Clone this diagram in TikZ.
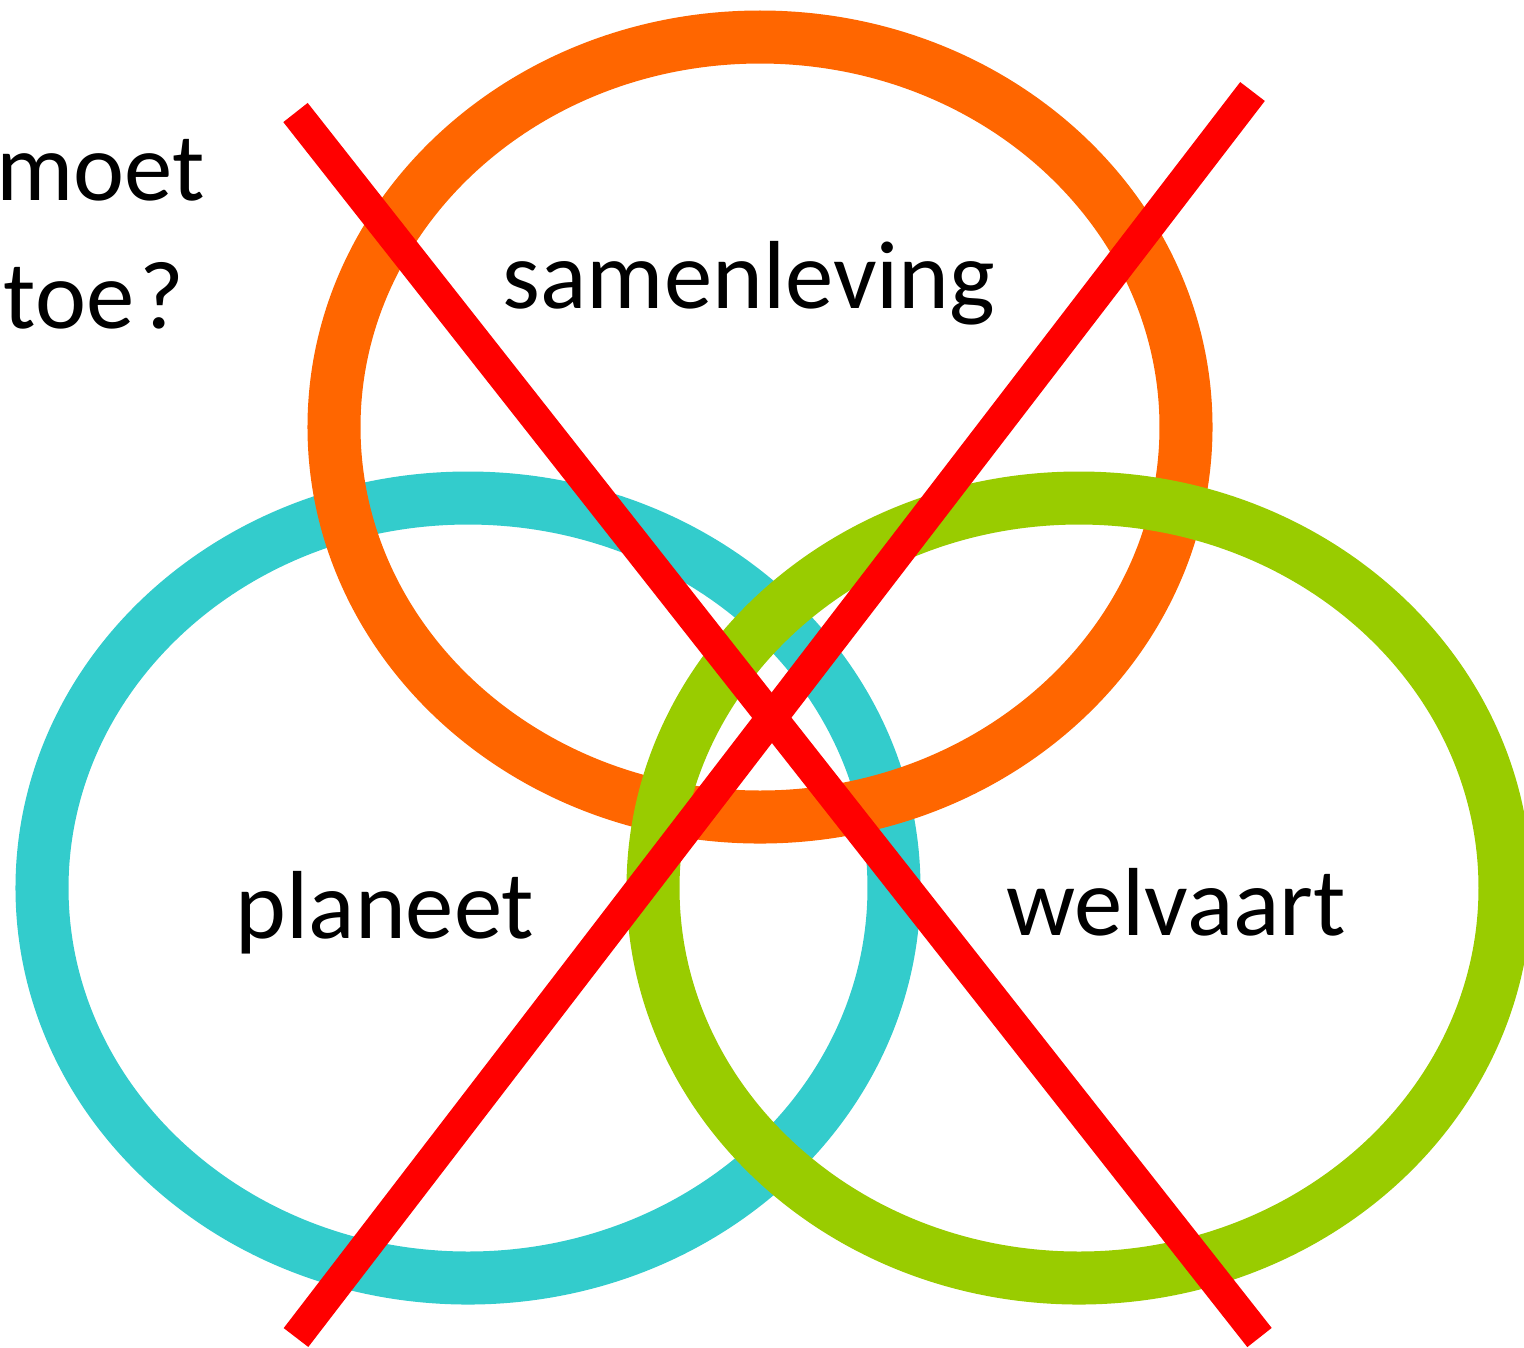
\documentclass[tikz,border=0pt]{standalone}
\usepackage{fontspec}
\setmainfont{Carlito}
\usepackage{xcolor}
\usetikzlibrary{calc}

\definecolor{ringorange}{HTML}{FF6600}
\definecolor{ringcyan}{HTML}{33CCCC}
\definecolor{ringgreen}{HTML}{99CC00}
\definecolor{crossred}{HTML}{FF0000}

\begin{document}
\begin{tikzpicture}[
  x=0.01cm, y=-0.01cm,
  ring/.style={line width=0.53cm},
  planetring/.style={ring, draw=ringcyan},
  societyring/.style={ring, draw=ringorange},
  wealthring/.style={ring, draw=ringgreen},
  crossbar/.style={line width=0.31cm, draw=crossred},
  lbl/.style={inner sep=0pt, font=\fontsize{27.5}{33}\selectfont, text=black},
]

%% ---- Canvas ----
\useasboundingbox (0,0) rectangle (1524,1347);
\clip (0,0) rectangle (1524,1347);

%% ---- Question (left) ----
\node[lbl, anchor=base west] (qmoet) at (-4,200) {moet};
\node[lbl, anchor=base west] (qtoe) at (3,328) {toe\kern0.05em?};

%% ---- Rings ----
\draw[planetring] (468,888) ellipse [x radius=426, y radius=390];
\draw[societyring] (760,427) ellipse [x radius=426, y radius=390];
\draw[wealthring] (1079,888) ellipse [x radius=426, y radius=390];

%% ---- Ring labels ----
\node[lbl, anchor=base] (society) at (749,308) {samenleving};
\node[lbl, anchor=base] (planet) at (385,938) {planeet};
\node[lbl, anchor=base] (wealth) at (1176,935) {welvaart};

%% ---- Red cross ----
\coordinate (xtl) at (295.5,112.5);
\coordinate (xbr) at (1259.5,1337.5);
\coordinate (xtr) at (1252.5,91.5);
\coordinate (xbl) at (296,1337.5);
\draw[crossbar] (xtl) -- (xbr);
\draw[crossbar] (xtr) -- (xbl);

\end{tikzpicture}
\end{document}
